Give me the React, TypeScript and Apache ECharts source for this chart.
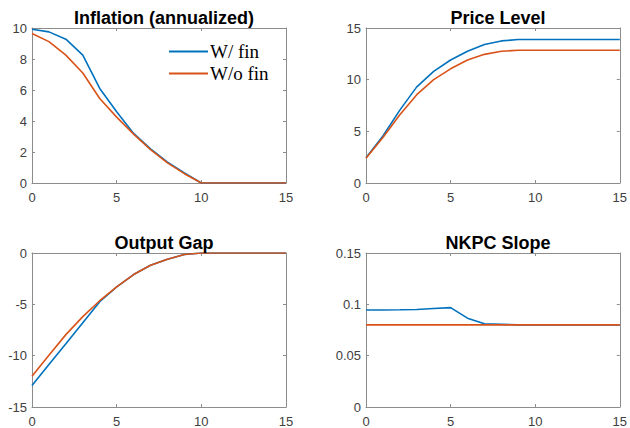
import React, { useEffect, useRef } from "react";
import * as echarts from "echarts";

const periods = [0, 1, 2, 3, 4, 5, 6, 7, 8, 9, 10, 11, 12, 13, 14, 15];

const inflationFin = [9.92, 9.75, 9.28, 8.25, 6.1, 4.6, 3.2, 2.2, 1.35, 0.65, 0, 0, 0, 0, 0, 0];
const inflationNoFin = [9.65, 9.12, 8.25, 7.1, 5.45, 4.25, 3.15, 2.15, 1.3, 0.6, 0, 0, 0, 0, 0, 0];

const priceFin = [2.45, 4.55, 7.05, 9.3, 10.8, 11.9, 12.75, 13.4, 13.75, 13.88, 13.88, 13.88, 13.88, 13.88, 13.88, 13.88];
const priceNoFin = [2.4, 4.4, 6.6, 8.55, 10.0, 11.05, 11.9, 12.45, 12.75, 12.85, 12.85, 12.85, 12.85, 12.85, 12.85, 12.85];

const gapFin = [-12.9, -10.85, -8.85, -6.8, -4.75, -3.3, -2.1, -1.2, -0.6, -0.15, 0, 0, 0, 0, 0, 0];
const gapNoFin = [-12.0, -9.95, -7.95, -6.2, -4.65, -3.3, -2.1, -1.2, -0.6, -0.15, 0, 0, 0, 0, 0, 0];

const slopeFin = [0.0945, 0.0945, 0.0947, 0.095, 0.096, 0.0968, 0.0865, 0.081, 0.0805, 0.08, 0.08, 0.08, 0.08, 0.08, 0.08, 0.08];
const slopeNoFin = [0.08, 0.08, 0.08, 0.08, 0.08, 0.08, 0.08, 0.08, 0.08, 0.08, 0.08, 0.08, 0.08, 0.08, 0.08, 0.08];

const titles = ["Inflation (annualized)", "Price Level", "Output Gap", "NKPC Slope"];
const legendNames = ["W/ fin", "W/o fin"];
const yRanges = [
  { min: 0, max: 10, interval: 2 },
  { min: 0, max: 15, interval: 5 },
  { min: -15, max: 0, interval: 5 },
  { min: 0, max: 0.15, interval: 0.05 },
];
const panels = [
  [inflationFin, inflationNoFin],
  [priceFin, priceNoFin],
  [gapFin, gapNoFin],
  [slopeFin, slopeNoFin],
];

const BLUE = "#0072BD";
const ORANGE = "#D95319";
const AXIS = "#8c8c8c";
const LABEL = "#404040";

export default function App() {
  const ref = useRef<HTMLDivElement>(null);
  useEffect(() => {
    if (!ref.current) return;
    const chart = echarts.init(ref.current, null, { renderer: "svg" });
    const grids = [
      { left: 32, top: 28, width: 254, height: 155 },
      { left: 366, top: 28, width: 254, height: 155 },
      { left: 32, top: 253, width: 254, height: 156 },
      { left: 366, top: 253, width: 254, height: 156 },
    ];
    const xAxes: any[] = [];
    const yAxes: any[] = [];
    const series: any[] = [];
    const title: any[] = [];
    grids.forEach((g, i) => {
      title.push({
        text: titles[i],
        left: g.left + g.width / 2,
        top: i < 2 ? 4 : 229,
        textAlign: "center",
        textStyle: { fontFamily: "Liberation Sans", fontWeight: "bold", fontSize: 18, color: "#000" },
      });
      const lineStyle = { color: AXIS, width: 1 };
      xAxes.push({
        type: "value", gridIndex: i, position: "bottom", min: 0, max: 15, interval: 5,
        axisLine: { show: true, lineStyle, onZero: false },
        axisTick: { show: true, inside: true, length: 3, lineStyle },
        axisLabel: { color: LABEL, fontFamily: "Liberation Sans", fontSize: 13, margin: 8 },
        splitLine: { show: false },
      });
      xAxes.push({
        type: "value", gridIndex: i, position: "top", min: 0, max: 15, interval: 5,
        axisLine: { show: true, lineStyle, onZero: false },
        axisTick: { show: true, inside: true, length: 3, lineStyle },
        axisLabel: { show: false },
        splitLine: { show: false },
      });
      const yr = yRanges[i];
      yAxes.push({
        type: "value", gridIndex: i, position: "left", min: yr.min, max: yr.max, interval: yr.interval,
        axisLine: { show: true, lineStyle, onZero: false },
        axisTick: { show: true, inside: true, length: 3, lineStyle },
        axisLabel: { color: LABEL, fontFamily: "Liberation Sans", fontSize: 13, margin: 5 },
        splitLine: { show: false },
      });
      yAxes.push({
        type: "value", gridIndex: i, position: "right", min: yr.min, max: yr.max, interval: yr.interval,
        axisLine: { show: true, lineStyle, onZero: false },
        axisTick: { show: true, inside: true, length: 3, lineStyle },
        axisLabel: { show: false },
        splitLine: { show: false },
      });
      panels[i].forEach((vals, k) => {
        series.push({
          type: "line",
          name: legendNames[k],
          xAxisIndex: i * 2,
          yAxisIndex: i * 2,
          data: periods.map((p, j) => [p, vals[j]]),
          showSymbol: false,
          symbol: "none",
          lineStyle: { color: k === 0 ? BLUE : ORANGE, width: 1.6 },
          itemStyle: { color: k === 0 ? BLUE : ORANGE },
          z: k === 0 ? 2 : 3,
        });
      });
    });
    chart.setOption({
      animation: false,
      backgroundColor: "#fff",
      title,
      grid: grids,
      xAxis: xAxes,
      yAxis: yAxes,
      series,
      legend: {
        data: legendNames.map((n) => ({ name: n, icon: "rect" })),
        orient: "vertical",
        left: 164,
        top: 37,
        itemWidth: 39,
        itemHeight: 2,
        itemGap: 3,
        textStyle: { fontFamily: "Liberation Serif", fontSize: 19, color: "#000", padding: [0, 0, 0, -3] },
      },
    });
    return () => chart.dispose();
  }, []);
  return <div ref={ref} style={{ position: "fixed", left: 0, top: 0, width: 630, height: 428 }} />;
}
